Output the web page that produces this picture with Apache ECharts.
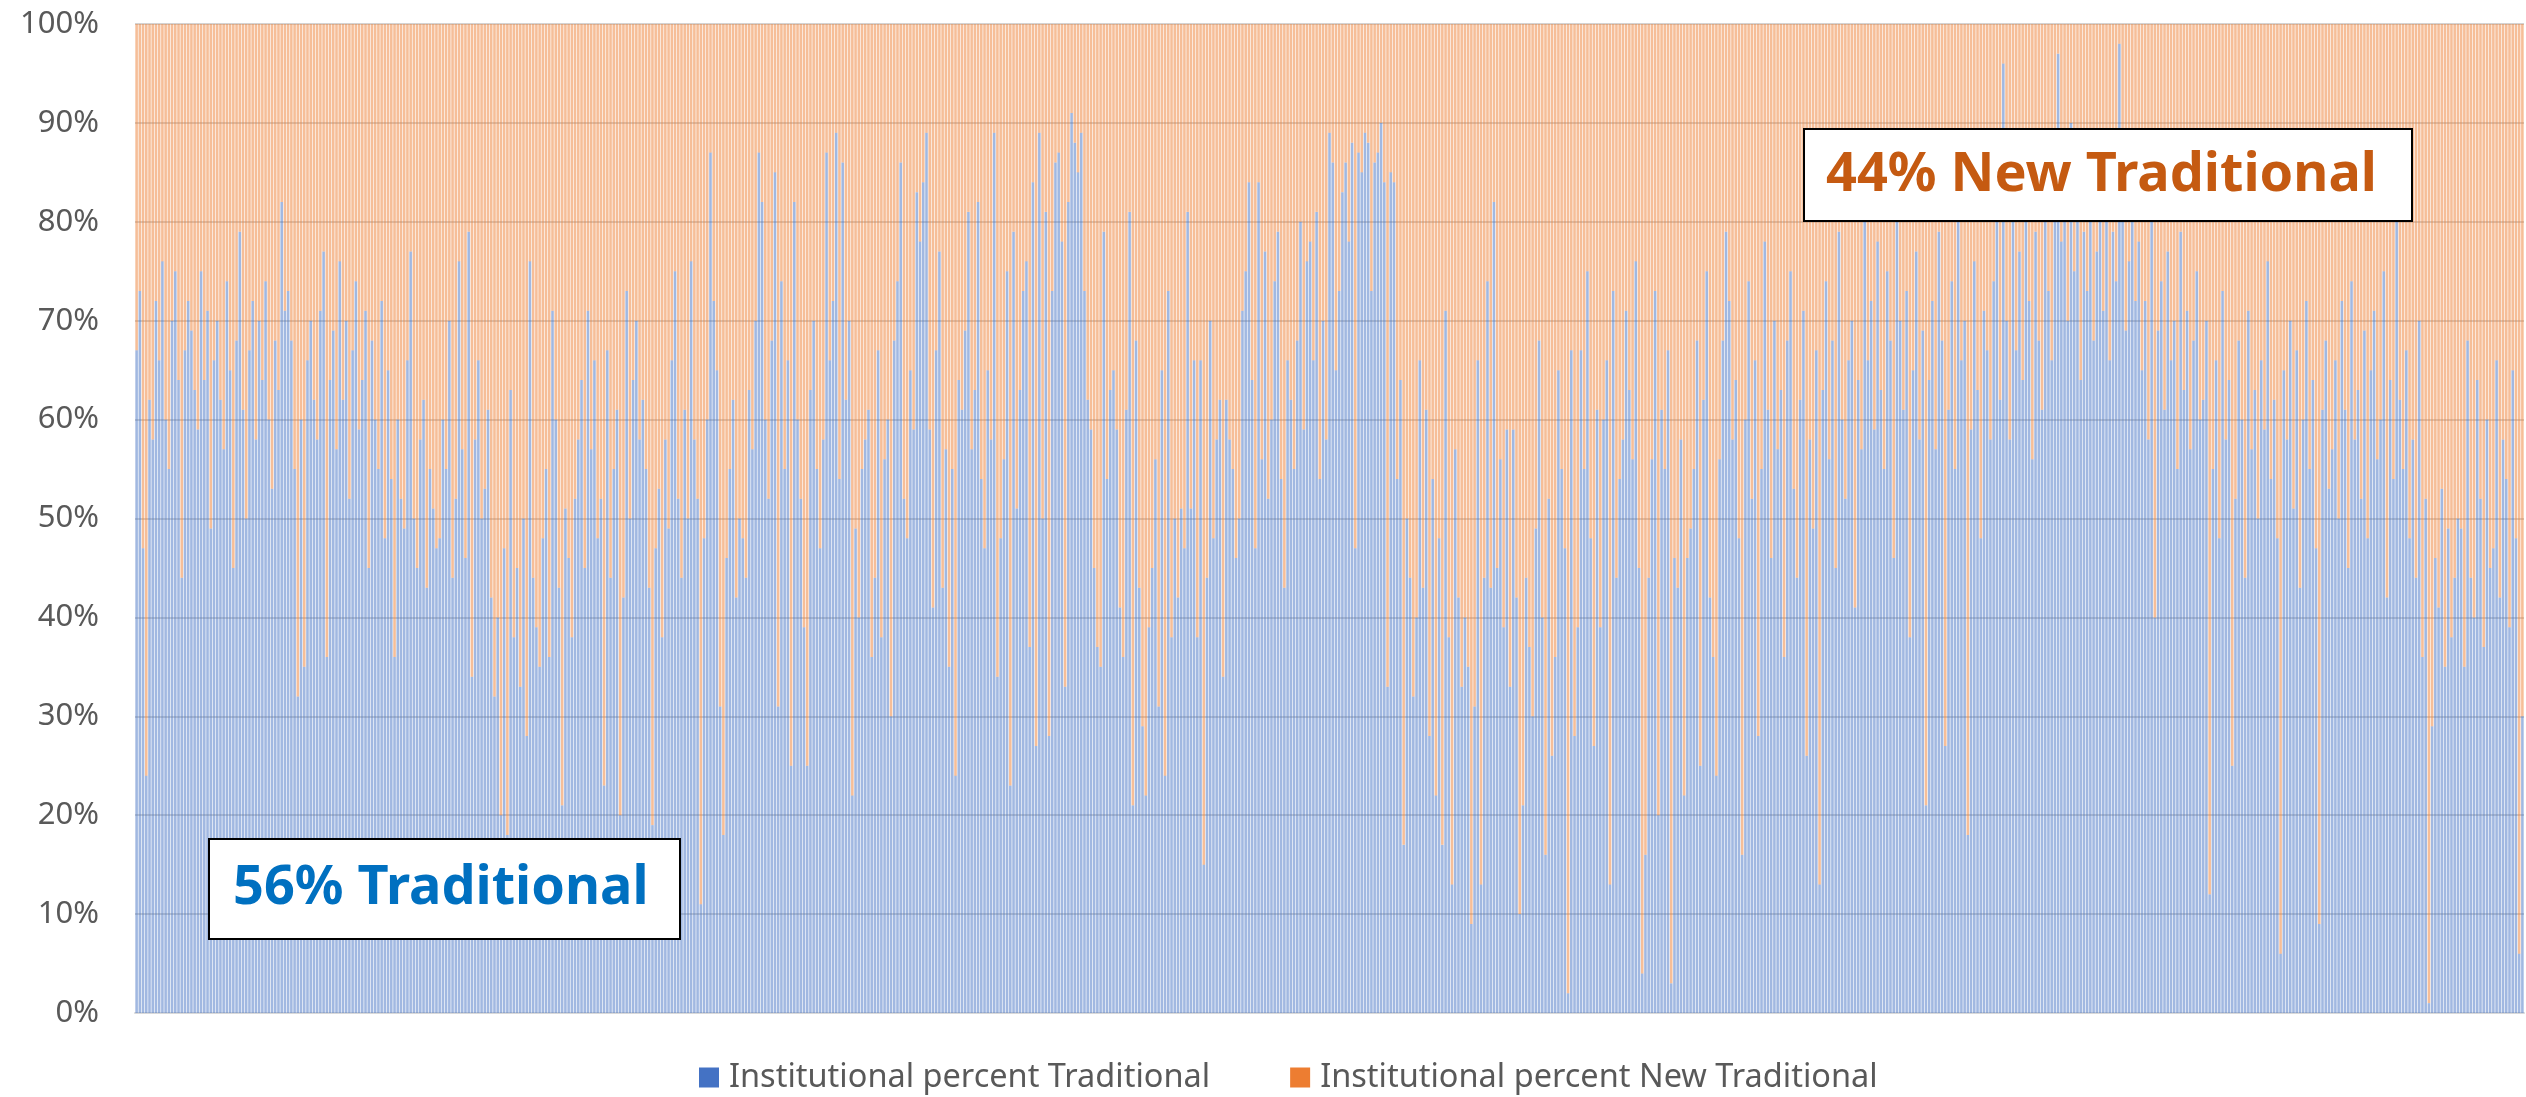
<!DOCTYPE html>
<html>
<head>
<meta charset="utf-8">
<title>Institutional percent Traditional vs New Traditional</title>
<script src="https://cdn.jsdelivr.net/npm/echarts@6/dist/echarts.min.js"></script>
<style>
  html, body { margin: 0; padding: 0; background: #fff; }
  #chart { width: 2526px; height: 1097px; }
</style>
</head>
<body>
<div id="chart"></div>
<script>
// series names (legend) and the two summary call-outs
const seriesNames = ['Institutional percent Traditional', 'Institutional percent New Traditional'];
const shareLabels = ['56% Traditional', '44% New Traditional'];

// percent Traditional for each institution left to right
const traditional = [
  67, 73, 47, 24, 62, 58, 72, 66, 76, 60, 55, 70, 75, 64, 44, 67,
  72, 69, 63, 59, 75, 64, 71, 49, 66, 70, 62, 57, 74, 65, 45, 68,
  79, 61, 50, 67, 72, 58, 70, 64, 74, 60, 53, 68, 63, 82, 71,
  73, 68, 55, 32, 60, 35, 66, 70, 62, 58, 71, 77, 36, 64, 69, 57,
  76, 62, 70, 52, 67, 74, 59, 64, 71, 45, 68, 60, 55, 72, 48, 65,
  54, 36, 60, 52, 49, 66, 77, 50, 45, 58, 62, 43, 55, 51, 47,
  48, 60, 55, 70, 44, 52, 76, 57, 46, 79, 34, 58, 66, 50, 53, 61,
  42, 32, 40, 20, 47, 18, 63, 38, 45, 33, 50, 28, 76, 44, 39, 35,
  48, 55, 36, 71, 60, 43, 21, 51, 46, 38, 52, 58, 64, 45, 71,
  57, 66, 48, 52, 23, 67, 44, 55, 61, 20, 42, 73, 50, 64, 70, 58,
  62, 55, 43, 19, 47, 53, 38, 58, 49, 66, 75, 52, 44, 61, 50,
  76, 58, 52, 11, 48, 60, 87, 72, 65, 31, 18, 46, 55, 62, 42, 50,
  48, 44, 63, 57, 70, 87, 82, 60, 52, 68, 85, 31, 74, 55, 66, 25,
  82, 60, 52, 39, 25, 63, 70, 55, 47, 58, 87, 66, 72, 89, 54,
  86, 62, 70, 22, 49, 40, 55, 58, 61, 36, 44, 67, 38, 56, 60, 30,
  68, 74, 86, 52, 48, 65, 59, 83, 78, 84, 89,
  59, 41, 67, 77, 43, 57, 35, 55, 24, 64, 61, 69, 81, 57, 63, 82,
  54, 47, 65, 58, 89, 34, 48, 56, 75, 23, 79, 51, 63, 73, 76, 37,
  84, 27, 89, 50, 81, 28, 73, 86, 87, 78, 33, 82, 91, 88, 85, 89,
  73, 62, 59, 45, 37, 35, 79, 54, 63, 65, 59, 41, 36, 61, 81, 21,
  68, 43, 29, 22, 39, 45, 56, 31, 65, 24, 73, 38, 50, 42, 51, 47,
  81, 51, 66, 38, 66, 15, 44, 70, 48, 58, 62, 34, 62, 58, 55, 46,
  50, 71, 75, 84, 64, 47, 84, 56, 77, 52, 60, 74, 79, 54, 43, 66,
  62, 55, 68, 80, 59, 76, 78, 66, 81, 54, 70, 58, 89, 86, 65, 73,
  83, 86, 78, 88, 47, 87, 85, 89, 88, 73, 86, 87, 90, 84, 33, 85,
  84, 54, 64, 17, 50, 44, 32, 40, 66, 43, 61, 28, 54, 22, 48, 17,
  71, 38, 13, 57, 42, 33, 40, 35, 9, 31, 66, 13, 44, 74, 43, 82,
  45, 56, 39, 59, 33, 59, 42, 10, 21, 44, 37, 30, 49, 68, 40, 16,
  52, 26, 36, 65, 55, 47, 2, 67, 28, 39, 67, 55, 75, 48, 27, 61,
  39, 60, 66, 13, 73, 44, 54, 58, 71, 63, 56, 76, 45, 4, 16, 44,
  56, 73, 20, 61, 55, 67, 3, 46, 43, 58, 22, 46, 49, 55, 68, 25,
  62, 75, 42, 36, 24, 56, 68, 79,
  72, 58, 64, 48, 16, 60, 74, 52, 66, 28, 55, 78, 61, 46, 70, 57, 63, 36, 68, 75, 53, 44,
  62, 71, 26, 58, 49, 67, 13, 63, 74, 56, 68, 45, 79, 60, 52, 66, 70, 41, 64, 57,
  80, 66, 72, 59, 78, 63, 55, 75, 68, 46, 80, 70, 61, 73, 38, 65, 77, 58, 69, 21,
  64, 72, 57, 79, 68, 27, 61, 74, 55, 80, 66, 70, 18, 59, 76, 63, 48, 71, 67, 58,
  74, 81, 62, 96, 70, 58, 83, 67, 77, 64, 85, 72, 56, 79, 68, 61, 88, 73, 66, 80,
  97, 78, 84, 70, 90, 75, 82, 64, 79, 73, 86, 68, 77, 81, 71, 85, 66, 79, 74, 98, 83, 69, 76, 80, 72,
  78, 65, 72, 58, 80, 40, 69, 74, 61, 77, 66, 70, 55, 79, 63, 71, 57, 68, 75, 60,
  62, 70, 12, 55, 66, 48, 73, 58, 64, 25, 52, 68, 60, 44, 71, 57, 63, 50, 66, 59,
  76, 54, 62, 48, 6, 65, 58, 70, 51, 67, 43, 60, 72, 55, 64, 47, 9, 61, 68, 53,
  57, 66, 50, 72, 61, 45, 74, 58, 63, 52, 69, 48, 65, 71, 56, 60, 75, 42, 64, 54,
  81, 62, 55, 67, 48, 58, 44, 70, 36, 52, 1, 29, 46, 41, 53, 35, 49, 38, 44, 50,
  49, 35, 68, 44, 40, 64, 52, 37, 60, 45, 47, 66, 42, 58, 54, 39, 65, 48, 6, 30
];

// 100% stacked: the New Traditional part is the rest of each bar
const newTraditional = traditional.map(v => 100 - v);
const institutions = traditional.map((v, i) => String(i + 1));

const chart = echarts.init(document.getElementById('chart'));

let option = {
  animation: false,
  backgroundColor: '#fff',
  grid: { left: 135, right: 2, top: 24, bottom: 84 },
  legend: {
    left: 694,
    top: 1056,
    itemWidth: 20,
    itemHeight: 20,
    itemGap: 80,
    icon: 'rect',
    textStyle: { color: '#595959', fontSize: 32.5, fontFamily: 'Noto Sans', padding: [0, 0, 0, 5] },
    data: [
      { name: seriesNames[0], itemStyle: { color: '#4472C4', opacity: 1 } },
      { name: seriesNames[1], itemStyle: { color: '#ED7D31', opacity: 1 } }
    ]
  },
  xAxis: {
    type: 'category',
    data: institutions,
    axisLabel: { show: false },
    axisTick: { show: false },
    axisLine: { lineStyle: { color: '#d9d9d9', width: 2 } }
  },
  yAxis: {
    type: 'value',
    min: 0,
    max: 100,
    interval: 10,
    axisLabel: {
      formatter: '{value}%',
      color: '#595959',
      fontSize: 31,
      fontFamily: 'Noto Sans',
      margin: 36
    },
    splitLine: { lineStyle: { color: '#c4c4c4', width: 1.5 } }
  },
  series: [
    {
      name: seriesNames[0],
      type: 'bar',
      stack: 'total',
      data: traditional,
      barCategoryGap: '20%',
      itemStyle: { color: '#4472C4', opacity: 0.5 }
    },
    {
      name: seriesNames[1],
      type: 'bar',
      stack: 'total',
      data: newTraditional,
      barCategoryGap: '20%',
      itemStyle: { color: '#ED7D31', opacity: 0.5 }
    }
  ],
  graphic: [
    {
      type: 'rect', z: 100,
      shape: { x: 209, y: 839, width: 471, height: 100 },
      style: { fill: '#fff', stroke: '#000', lineWidth: 2 }
    },
    {
      type: 'text', z: 101,
      style: {
        text: shareLabels[0], x: 233, y: 889,
        font: 'bold 54px "Noto Sans"', fill: '#0070C0',
        verticalAlign: 'middle', textVerticalAlign: 'middle'
      }
    },
    {
      type: 'rect', z: 100,
      shape: { x: 1804, y: 129, width: 608, height: 92 },
      style: { fill: '#fff', stroke: '#000', lineWidth: 2 }
    },
    {
      type: 'text', z: 101,
      style: {
        text: shareLabels[1], x: 1826, y: 176,
        font: 'bold 54px "Noto Sans"', fill: '#C55A11',
        verticalAlign: 'middle', textVerticalAlign: 'middle'
      }
    }
  ]
};

chart.setOption(option);
</script>
</body>
</html>
